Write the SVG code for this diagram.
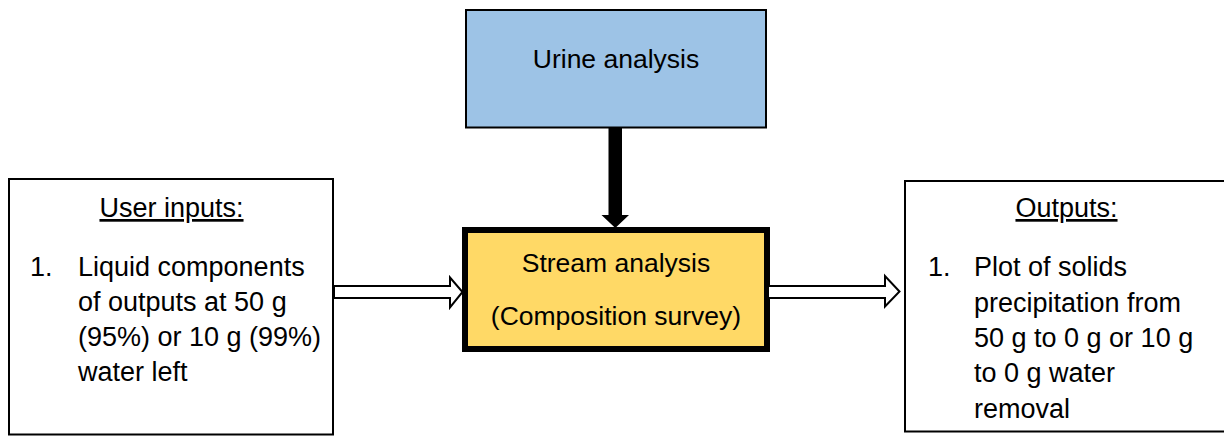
<svg xmlns="http://www.w3.org/2000/svg" width="1224" height="436" viewBox="0 0 1224 436">
  <style>
    text { font-family: "Liberation Sans", Arial, sans-serif; fill: #000; }
    .box { fill: #fff; stroke: #000; stroke-width: 2; }
    .list { font-size: 27px; }
    .head { font-size: 27px; text-anchor: middle; text-decoration: underline; }
    .mid { font-size: 26.5px; text-anchor: middle; }
    .hollow { fill: #fff; stroke: #000; stroke-width: 2; stroke-linejoin: miter; }
  </style>

  <!-- top source box -->
  <g id="urine-analysis">
    <rect x="466" y="10" width="300" height="117.5" fill="#9DC3E6" stroke="#000" stroke-width="2"/>
    <text class="mid" x="616" y="68">Urine analysis</text>
  </g>

  <!-- central processing box -->
  <g id="stream-analysis">
    <rect x="465" y="230" width="302" height="119" fill="#FFD966" stroke="#000" stroke-width="6"/>
    <text class="mid" x="616" y="272">Stream analysis</text>
    <text class="mid" x="616" y="325">(Composition survey)</text>
  </g>

  <!-- inputs box -->
  <g id="user-inputs">
    <rect class="box" x="9" y="179" width="324" height="255.5"/>
    <text class="head" x="171.5" y="217">User inputs:</text>
    <text class="list" x="30" y="276">1.</text>
    <text class="list" x="78" y="276">Liquid components</text>
    <text class="list" x="78" y="311">of outputs at 50 g</text>
    <text class="list" x="78" y="346">(95%) or 10 g (99%)</text>
    <text class="list" x="78" y="381">water left</text>
  </g>

  <!-- outputs box (runs past the right edge) -->
  <g id="outputs">
    <rect class="box" x="905" y="181" width="330" height="250.5"/>
    <text class="head" x="1066.5" y="217">Outputs:</text>
    <text class="list" x="928" y="276">1.</text>
    <text class="list" x="974" y="276">Plot of solids</text>
    <text class="list" x="974" y="312">precipitation from</text>
    <text class="list" x="974" y="347">50 g to 0 g or 10 g</text>
    <text class="list" x="974" y="382">to 0 g water</text>
    <text class="list" x="974" y="418">removal</text>
  </g>

  <!-- connectors -->
  <g id="connectors">
    <!-- solid block arrow: urine analysis -> stream analysis -->
    <polygon points="608.5,128 622,128 622,215 629,215 615.3,228 601.5,215 608.5,215" fill="#000"/>
    <!-- hollow block arrow: inputs -> stream analysis -->
    <polygon class="hollow" points="334,286 450,286 450,277.5 462.5,292 450,307.5 450,298 334,298"/>
    <!-- hollow block arrow: stream analysis -> outputs -->
    <polygon class="hollow" points="768,286 885,286 885,276 899.5,291.5 885,306.5 885,298 768,298"/>
  </g>
</svg>
